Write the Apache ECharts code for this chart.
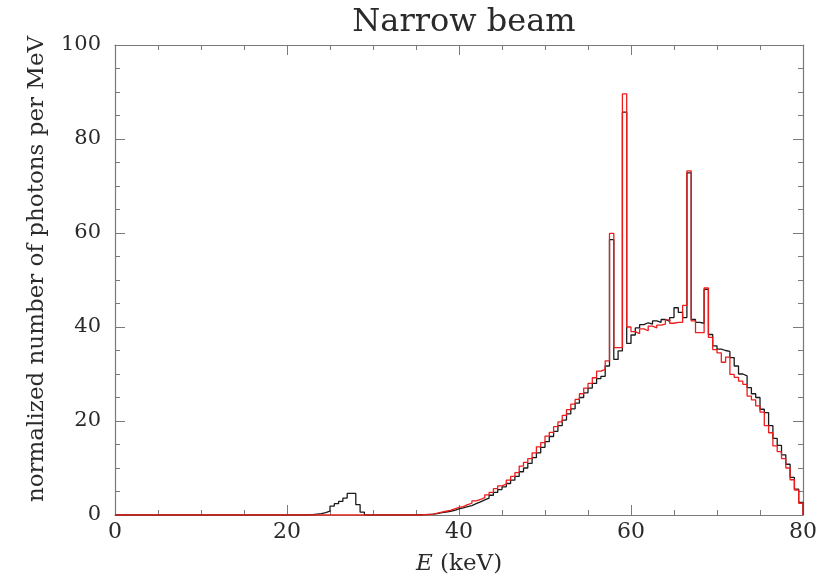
<!DOCTYPE html>
<html>
<head>
<meta charset="utf-8">
<script src="https://cdn.jsdelivr.net/npm/echarts@6/dist/echarts.min.js"></script>
<style>html,body{margin:0;padding:0;background:#fff;}#chart{width:820px;height:581px;}</style>
</head>
<body>
<div id="chart"></div>
<script>
// Histogram bins: left edges at 0, 0.5, ..., 79.5 keV
const binWidth = 0.5;
const xTicks = [0, 20, 40, 60, 80];
const yTicks = [0, 20, 40, 60, 80, 100];

// Black spectrum (normalized number of photons per MeV)
const blackCounts = [
  0,0,0,0,0,0,0,0,0,0, 0,0,0,0,0,0,0,0,0,0,
  0,0,0,0,0,0,0,0,0,0, 0,0,0,0,0,0,0,0,0,0,
  0,0,0,0,
  0.05,0.1,0.2,0.3,0.5,0.8,1.9,2.4,2.9,3.6,4.6,4.6,2.2,0.6,
  0,0,0,0,0,0,0,0,0,0,0,0,
  0.05,0.1,0.15,0.2,0.3,0.5,0.6,0.8,1.0,1.3,
  1.5,1.8,2.0,2.4,2.8,3.2,3.6,4.2,4.8,5.4,
  6.0,6.7,7.4,8.2,9.2,10.0,11.0,12.2,13.2,14.4,
  15.6,16.7,17.8,19.0,20.2,21.5,22.6,23.8,25.0,26.0,
  27.0,28.0,29.0,29.5,31.7,58.6,33.1,34.9,85.7,36.5,
  38.3,39.8,40.5,40.9,40.6,41.3,41.0,41.6,41.2,42.0,
  44.1,43.1,42.0,72.8,41.6,41.0,40.8,48.0,38.4,36.0,
  35.3,35.0,34.8,33.5,31.7,30.0,29.6,27.1,25.8,25.0,
  22.5,21.8,19.0,16.3,14.8,12.8,10.8,8.0,5.5,2.7
];

// Red spectrum
const redCounts = [
  0,0,0,0,0,0,0,0,0,0, 0,0,0,0,0,0,0,0,0,0,
  0,0,0,0,0,0,0,0,0,0, 0,0,0,0,0,0,0,0,0,0,
  0,0,0,0,0,0,0,0,0,0, 0,0,0,0,0,0,0,0,0,0,
  0,0,0,0,0,0,0,0,0,0, 0,
  0.05,0.1,0.2,0.4,0.6,0.8,1.0,1.3,1.6,
  1.8,2.2,2.5,3.0,3.3,3.7,4.3,4.8,5.6,6.2,
  6.6,7.4,8.2,9.0,10.4,11.2,12.0,13.2,14.5,15.4,
  16.8,17.6,18.8,19.8,21.2,22.4,23.6,24.6,25.8,27.0,
  28.0,29.2,30.6,31.0,32.8,59.9,35.6,35.6,89.6,40.0,
  39.0,38.6,39.6,39.2,40.2,39.8,40.4,40.6,41.5,40.8,
  41.0,41.0,44.6,73.2,41.3,38.8,38.8,48.3,37.8,35.2,
  34.5,32.5,33.6,29.9,29.3,28.5,27.8,25.3,24.5,23.2,
  21.9,19.0,17.5,14.7,13.5,12.0,10.0,7.5,5.3,2.5
];

function toSteps(vals) {
  const pts = vals.map((v, i) => [i * binWidth, v]);
  pts.push([vals.length * binWidth, 0]);
  return pts;
}

const FONT = 'DejaVu Serif';
const axisColor = '#7a7a7a';
const txtColor = '#2a2a2a';

const chart = echarts.init(document.getElementById('chart'), null, {renderer: 'canvas'});

function xAxisCfg(pos, showLabels) {
  return {
    type: 'value', position: pos, min: xTicks[0], max: xTicks[xTicks.length - 1],
    interval: xTicks[1] - xTicks[0],
    axisLine: {show: true, onZero: false, lineStyle: {color: axisColor, width: 1.2}},
    axisTick: {show: true, inside: true, length: 10, lineStyle: {color: axisColor, width: 1}},
    minorTick: {show: true, splitNumber: 4, length: 5, lineStyle: {color: axisColor, width: 1}},
    splitLine: {show: false},
    axisLabel: {show: showLabels, fontFamily: FONT, fontSize: 22, color: txtColor, margin: 6},
    name: showLabels ? '{i|E} (keV)' : '',
    nameLocation: 'middle', nameGap: 38,
    nameTextStyle: {fontFamily: FONT, fontSize: 23, color: txtColor,
      rich: {i: {fontFamily: FONT, fontSize: 23, fontStyle: 'italic', color: txtColor}}}
  };
}
function yAxisCfg(pos, showLabels) {
  return {
    type: 'value', position: pos, min: yTicks[0], max: yTicks[yTicks.length - 1],
    interval: yTicks[1] - yTicks[0],
    axisLine: {show: true, onZero: false, lineStyle: {color: axisColor, width: 1.2}},
    axisTick: {show: true, inside: true, length: 10, lineStyle: {color: axisColor, width: 1}},
    minorTick: {show: true, splitNumber: 4, length: 5, lineStyle: {color: axisColor, width: 1}},
    splitLine: {show: false},
    axisLabel: {show: showLabels, fontFamily: FONT, fontSize: 21, color: txtColor, margin: 14}
  };
}

chart.setOption({
  backgroundColor: '#ffffff',
  animation: false,
  title: {
    text: 'Narrow beam', left: 459, top: 2, textAlign: 'center',
    textStyle: {fontFamily: FONT, fontSize: 32, fontWeight: 'normal', color: txtColor}
  },
  grid: {left: 115, top: 45, right: 16, bottom: 65},
  xAxis: [xAxisCfg('bottom', true), xAxisCfg('top', false)],
  yAxis: [yAxisCfg('left', true), yAxisCfg('right', false)],
  graphic: [{
    type: 'text', x: 37, y: 269, rotation: Math.PI / 2,
    style: {text: 'normalized number of photons per MeV', fontFamily: FONT, fontSize: 23,
      fill: txtColor, textAlign: 'center', textVerticalAlign: 'middle'}
  }],
  series: [
    {
      type: 'line', step: 'end', data: toSteps(blackCounts), xAxisIndex: 0, yAxisIndex: 0,
      showSymbol: false, lineStyle: {color: '#1a1a1a', width: 1.3}, z: 2
    },
    {
      type: 'line', step: 'end', data: toSteps(redCounts), xAxisIndex: 0, yAxisIndex: 0,
      showSymbol: false, lineStyle: {color: '#ee1c1c', width: 1.3}, z: 3
    }
  ]
});
</script>
</body>
</html>
